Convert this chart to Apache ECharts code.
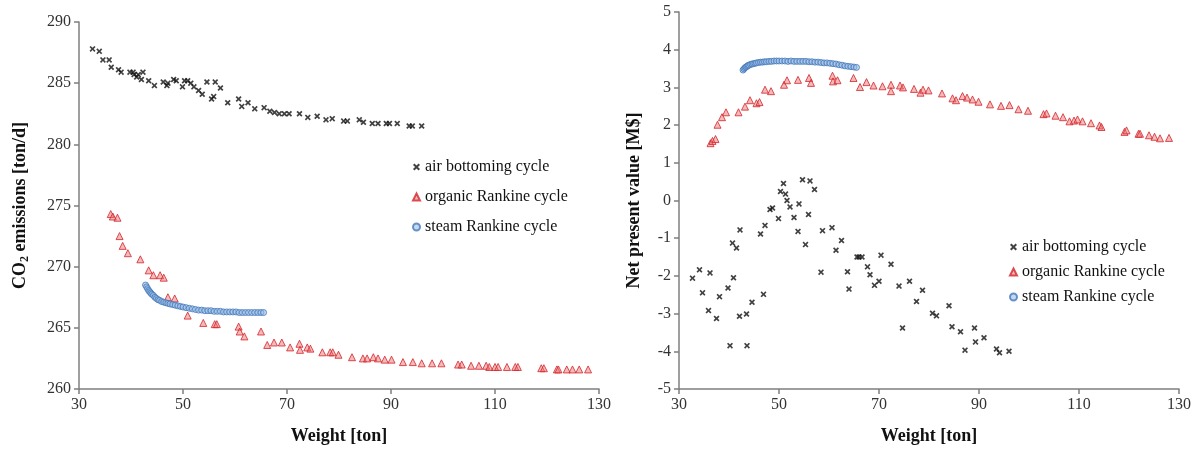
<!DOCTYPE html>
<html>
<head>
<meta charset="utf-8">
<script src="https://cdn.jsdelivr.net/npm/echarts@6/dist/echarts.min.js"></script>
<style>html,body{margin:0;padding:0;background:#fff}#c{width:1199px;height:450px}</style>
</head>
<body>
<div id="c"></div>
<script>
// ---- Left chart: CO2 emissions [ton/d] vs Weight [ton]
const airWeightCO2 = [32.6,33.9,34.6,35.8,36.2,37.6,38.1,39.8,40.4,40.6,41.1,41.4,42.0,42.3,43.4,44.5,46.2,46.9,47.1,48.2,48.7,49.9,50.3,50.9,51.5,52.1,53.0,53.7,54.6,55.5,55.9,56.2,57.2,58.6,60.7,61.3,62.5,63.8,65.6,66.7,67.6,68.5,69.5,70.4,72.4,74.0,75.8,77.5,78.7,80.9,81.6,83.9,84.7,86.4,87.5,89.1,89.7,91.2,93.5,94.1,95.9];
const airCO2 = [287.8,287.6,286.9,286.9,286.3,286.1,285.9,285.9,285.9,285.7,285.5,285.7,285.3,285.9,285.2,284.8,285.1,284.8,285.0,285.3,285.2,284.7,285.2,285.2,285.0,284.7,284.4,284.1,285.1,283.7,283.9,285.1,284.6,283.4,283.7,283.1,283.4,282.9,283.0,282.7,282.6,282.5,282.5,282.5,282.5,282.2,282.3,282.0,282.1,281.9,281.9,282.0,281.8,281.7,281.7,281.7,281.7,281.7,281.5,281.5,281.5];

const orcWeightCO2 = [36.1,36.5,37.4,37.8,38.4,39.4,41.8,43.4,44.3,45.6,46.3,47.1,48.4,50.9,53.9,56.1,56.5,60.7,60.9,61.8,65.0,66.2,67.5,69.0,70.6,72.4,72.5,73.9,74.5,76.8,78.3,78.8,79.9,82.5,84.6,85.4,86.6,87.5,88.8,90.1,92.3,94.2,95.9,97.9,99.7,102.9,103.6,105.4,106.9,108.3,108.9,110.0,110.6,112.3,113.9,114.4,118.9,119.4,121.9,122.2,123.8,124.9,126.2,127.9];
const orcCO2 = [274.3,274.1,274.0,272.5,271.7,271.1,270.6,269.7,269.3,269.3,269.1,267.5,267.4,266.0,265.4,265.3,265.3,265.1,264.7,264.3,264.7,263.6,263.8,263.8,263.4,263.7,263.2,263.4,263.3,263.0,263.0,263.0,262.8,262.6,262.5,262.5,262.6,262.5,262.4,262.4,262.2,262.2,262.1,262.1,262.1,262.0,262.0,261.9,261.9,261.9,261.8,261.8,261.8,261.8,261.8,261.8,261.7,261.7,261.6,261.6,261.6,261.6,261.6,261.6];

const srcWeight = [42.8,43.0,43.2,43.4,43.6,43.8,44.0,44.3,44.6,44.9,45.2,45.5,45.9,46.3,46.7,47.1,47.5,48.0,48.5,49.0,49.5,50.0,50.6,51.2,51.8,52.4,53.0,53.6,54.2,54.8,55.4,56.0,56.6,57.2,57.8,58.4,59.0,59.6,60.2,60.8,61.4,62.0,62.6,63.2,63.8,64.4,65.0,65.5];
const srcCO2 = [268.5,268.35,268.2,268.05,267.95,267.85,267.75,267.65,267.5,267.4,267.3,267.25,267.15,267.1,267.05,267.0,266.95,266.9,266.85,266.8,266.75,266.7,266.65,266.6,266.55,266.5,266.45,266.45,266.4,266.4,266.4,266.35,266.35,266.35,266.3,266.3,266.3,266.3,266.3,266.25,266.25,266.25,266.25,266.25,266.25,266.25,266.25,266.25];

// ---- Right chart: Net present value [M$] vs Weight [ton]
const airWeightNPV = [32.7,34.1,34.7,35.9,36.2,37.5,38.1,39.8,40.2,40.7,40.9,41.5,42.2,42.1,43.5,43.6,44.6,46.3,46.9,47.2,48.2,48.7,49.9,50.3,50.9,51.3,51.6,52.2,53.0,53.8,54.0,54.7,55.3,55.9,56.2,57.1,58.4,58.7,60.6,61.4,62.5,63.7,64.0,65.6,66.0,66.6,67.7,68.2,69.1,70.0,70.4,72.4,74.0,74.7,76.1,77.5,78.7,80.7,81.5,84.0,84.6,86.3,87.2,89.1,89.3,91.0,93.5,94.1,96.0];
const airNPV = [-2.06,-1.84,-2.45,-2.92,-1.92,-3.13,-2.55,-2.32,-3.85,-1.13,-2.05,-1.26,-0.78,-3.07,-3.01,-3.85,-2.70,-0.89,-2.49,-0.66,-0.24,-0.20,-0.48,0.24,0.45,0.17,0.00,-0.17,-0.45,-0.82,-0.09,0.55,-1.17,-0.37,0.52,0.29,-1.90,-0.80,-0.72,-1.32,-1.06,-1.89,-2.35,-1.50,-1.50,-1.50,-1.76,-1.97,-2.25,-2.14,-1.45,-1.69,-2.27,-3.38,-2.14,-2.68,-2.38,-2.99,-3.06,-2.79,-3.35,-3.48,-3.97,-3.38,-3.75,-3.64,-3.94,-4.04,-4.00];

const orcWeightNPV = [36.3,36.7,37.3,37.7,38.6,39.4,41.9,43.2,44.2,45.5,46.1,47.2,48.4,51.0,51.6,53.8,56.0,56.4,60.7,60.8,61.7,64.9,66.2,67.5,68.9,70.7,72.4,72.4,74.2,74.8,77.0,78.3,78.8,79.9,82.6,84.7,85.4,86.7,87.6,88.7,89.9,92.2,94.4,96.1,97.9,99.8,102.9,103.5,105.3,106.8,108.1,109.0,109.7,110.7,112.4,114.1,114.5,119.1,119.5,121.9,122.2,124.0,125.1,126.2,128.0];
const orcNPV = [1.52,1.58,1.63,2.01,2.21,2.34,2.34,2.49,2.66,2.58,2.61,2.94,2.90,3.07,3.19,3.20,3.25,3.12,3.31,3.16,3.19,3.25,3.01,3.14,3.05,3.03,3.07,2.90,3.05,3.00,2.96,2.86,2.94,2.92,2.84,2.71,2.66,2.77,2.73,2.68,2.62,2.55,2.51,2.53,2.42,2.38,2.29,2.31,2.25,2.21,2.10,2.12,2.15,2.10,2.05,1.99,1.95,1.82,1.86,1.77,1.77,1.73,1.69,1.65,1.66];

const srcNPV = [3.46,3.49,3.52,3.54,3.56,3.58,3.59,3.61,3.62,3.63,3.64,3.65,3.66,3.67,3.67,3.68,3.68,3.69,3.69,3.70,3.70,3.70,3.70,3.70,3.69,3.70,3.69,3.69,3.69,3.69,3.69,3.68,3.68,3.67,3.67,3.66,3.65,3.65,3.64,3.63,3.62,3.60,3.59,3.57,3.56,3.55,3.54,3.53];

const seriesNames = ['air bottoming cycle','organic Rankine cycle','steam Rankine cycle'];

function zip(xs, ys){ const n = Math.min(xs.length, ys.length); const out=[]; for(let i=0;i<n;i++) out.push([xs[i], ys[i]]); return out; }

const FONT = 'Liberation Serif';
const crossPath = 'path://M0,2L2,0L5,3L8,0L10,2L7,5L10,8L8,10L5,7L2,10L0,8L3,5Z';

const styles = {
  air: {symbol: crossPath, symbolSize: 6, itemStyle: {color: '#111'}},
  orc: {symbol: 'triangle', symbolSize: 7, itemStyle: {color: 'rgba(232,110,110,0.6)', borderColor: '#d4242b', borderWidth: 1}},
  src: {symbol: 'circle', symbolSize: 6, itemStyle: {color: 'rgba(150,185,228,0.7)', borderColor: '#4579ba', borderWidth: 1}}
};

function axisCommon(){
  return {
    axisLine: {show: true, onZero: false, lineStyle: {color: '#7f7f7f', width: 1.5}},
    axisTick: {show: true, inside: false, length: 5, lineStyle: {color: '#7f7f7f', width: 1.5}},
    splitLine: {show: false},
    axisLabel: {fontFamily: FONT, fontSize: 16, color: '#333', margin: 8},
    nameTextStyle: {fontFamily: FONT, fontSize: 18, fontWeight: 'bold', color: '#111'}
  };
}

function xAxis(gi){
  return Object.assign(axisCommon(), {
    type: 'value', gridIndex: gi, min: 30, max: 130, interval: 20,
    name: 'Weight [ton]', nameLocation: 'middle', nameGap: 38
  });
}

const yLeft = Object.assign(axisCommon(), {
  type: 'value', gridIndex: 0, min: 260, max: 290, interval: 5,
  name: '{b|CO}{s|2}{b| emissions [ton/d]}', nameLocation: 'middle', nameGap: 48
});
yLeft.nameTextStyle = {rich: {
  b: {fontFamily: FONT, fontSize: 18, fontWeight: 'bold', color: '#111', lineHeight: 22, verticalAlign: 'middle'},
  s: {fontFamily: FONT, fontSize: 12, fontWeight: 'bold', color: '#111', lineHeight: 14, verticalAlign: 'bottom'}
}};

const yRight = Object.assign(axisCommon(), {
  type: 'value', gridIndex: 1, min: -5, max: 5, interval: 1,
  name: 'Net present value [M$]', nameLocation: 'middle', nameGap: 36
});

function mk(name, key, data, gi){
  return Object.assign({type: 'scatter', name: name, xAxisIndex: gi, yAxisIndex: gi, data: data, animation: false, emphasis: {disabled: true}}, styles[key]);
}

const legendText = {fontFamily: FONT, fontSize: 16, color: '#111'};

const option = {
  backgroundColor: '#fff',
  animation: false,
  grid: [
    {left: 79, right: 600, top: 22, bottom: 58},
    {left: 679, right: 20, top: 12, bottom: 55}
  ],
  xAxis: [xAxis(0), xAxis(1)],
  yAxis: [yLeft, yRight],
  legend: [
    {data: seriesNames, orient: 'vertical', left: 407, top: 154, itemWidth: 7, itemHeight: 7, itemGap: 14, textStyle: legendText, selectedMode: false},
    {data: seriesNames, orient: 'vertical', left: 1004, top: 234, itemWidth: 7, itemHeight: 7, itemGap: 9, textStyle: legendText, selectedMode: false}
  ],
  series: [
    mk(seriesNames[0], 'air', zip(airWeightCO2, airCO2), 0),
    mk(seriesNames[1], 'orc', zip(orcWeightCO2, orcCO2), 0),
    mk(seriesNames[2], 'src', zip(srcWeight, srcCO2), 0),
    mk(seriesNames[0], 'air', zip(airWeightNPV, airNPV), 1),
    mk(seriesNames[1], 'orc', zip(orcWeightNPV, orcNPV), 1),
    mk(seriesNames[2], 'src', zip(srcWeight, srcNPV), 1)
  ]
};

const chart = echarts.init(document.getElementById('c'), null, {renderer: 'canvas'});
chart.setOption(option);
</script>
</body>
</html>
